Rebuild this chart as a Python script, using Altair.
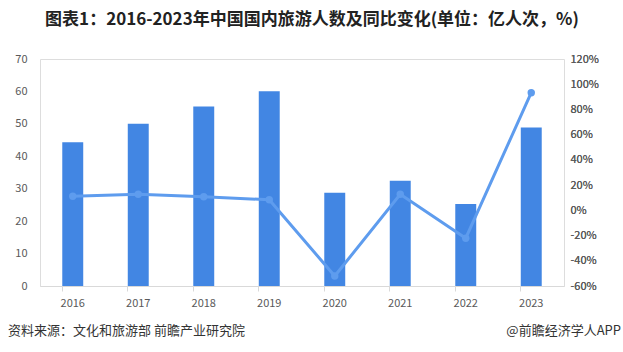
import altair as alt
import pandas as pd

years = ["2016", "2017", "2018", "2019", "2020", "2021", "2022", "2023"]
visitors = [44.35, 50.01, 55.39, 60.06, 28.79, 32.46, 25.30, 48.91]
growth = [11.2, 12.8, 10.8, 8.4, -52.1, 12.8, -22.1, 93.3]

df = pd.DataFrame({"year": years, "visitors": visitors, "growth": growth})

FONT = "Noto Sans CJK SC"
BAR = "#4286E3"
LINE = "#5E9CEE"

x = alt.X("year:N", title=None, sort=years,
          scale=alt.Scale(paddingInner=0.68, paddingOuter=0.34),
          axis=alt.Axis(labelAngle=0, labelFont=FONT, labelFontSize=11, labelColor="#595959",
                        labelPadding=6, domainColor="#d9d9d9", tickColor="#d9d9d9",
                        tickSize=5, bandPosition=0, grid=False))

bars = alt.Chart(df).mark_bar(color=BAR).encode(
    x=x,
    y=alt.Y("visitors:Q", title=None,
            scale=alt.Scale(domain=[0, 70], nice=False),
            axis=alt.Axis(values=list(range(0, 71, 10)), grid=False, domain=False, ticks=False,
                          labelFont=FONT, labelFontSize=11, labelColor="#595959", labelPadding=13)),
)

line_base = alt.Chart(df).encode(
    x=x,
    y=alt.Y("growth:Q", title=None,
            scale=alt.Scale(domain=[-60, 120], nice=False),
            axis=alt.Axis(orient="right", values=list(range(-60, 121, 20)), grid=False, domain=False,
                          ticks=False, labelExpr="datum.value + '%'",
                          labelFont=FONT, labelFontSize=11, labelColor="#595959", labelPadding=6)),
)
line = line_base.mark_line(color=LINE, strokeWidth=3)
pts = line_base.mark_point(color=LINE, filled=True, size=55, opacity=1)

footer_df = pd.DataFrame({"t": ["资料来源：文化和旅游部 前瞻产业研究院"]})
footer = alt.Chart(footer_df).mark_text(align="left", baseline="middle", font=FONT, fontSize=13,
                                        color="#333333").encode(
    text="t:N", x=alt.value(-32), y=alt.value(272))
brand_df = pd.DataFrame({"t": ["@前瞻经济学人APP"]})
brand = alt.Chart(brand_df).mark_text(align="right", baseline="middle", font=FONT, fontSize=13,
                                      color="#333333").encode(
    text="t:N", x=alt.value(581), y=alt.value(272))

chart = alt.layer(alt.layer(bars, line, pts).resolve_scale(y="independent"), footer, brand).properties(
    width=524, height=227,
    title=alt.TitleParams("图表1：2016-2023年中国国内旅游人数及同比变化(单位：亿人次，%)",
                          font=FONT, fontSize=17, fontWeight="bold", color="#222222",
                          anchor="middle", offset=24, dx=10),
    autosize=alt.AutoSizeParams(type="none"),
    padding={"left": 40, "top": 59, "right": 59, "bottom": 66},
).configure_view(stroke=None).configure(background="white")

chart.save("out.html", embed_options={"renderer": "svg", "actions": False})
